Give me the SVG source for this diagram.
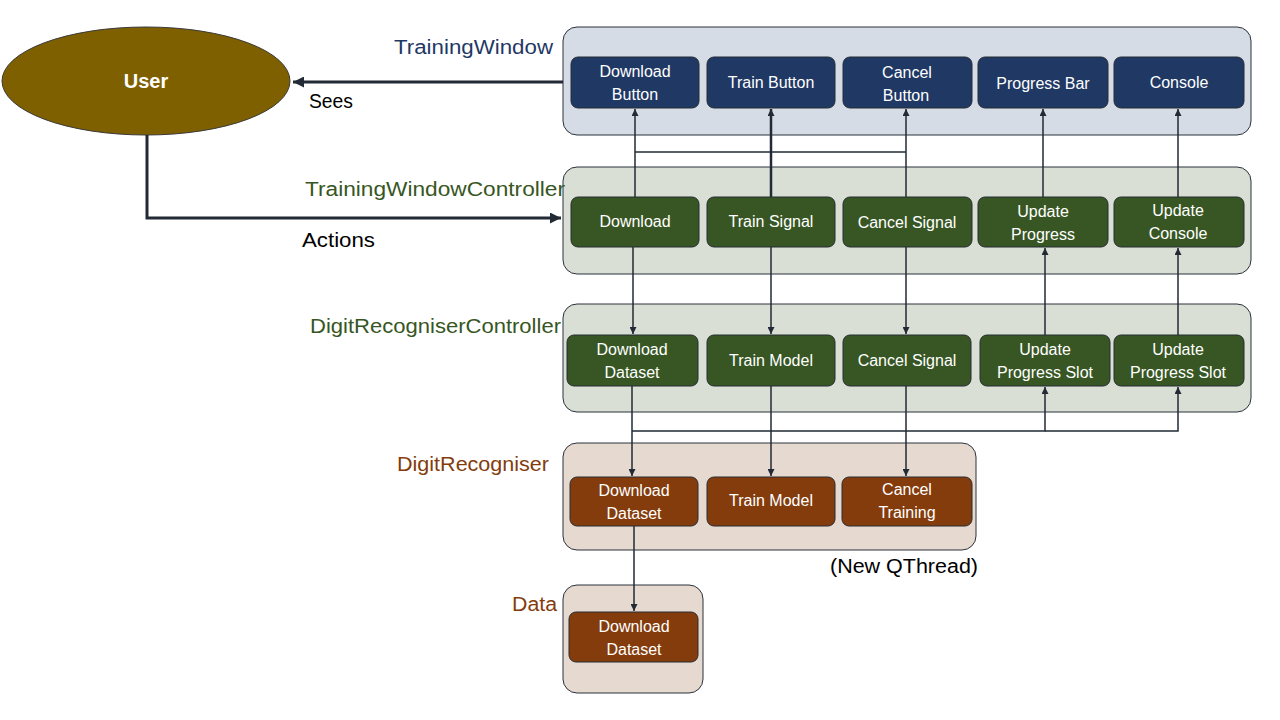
<svg xmlns="http://www.w3.org/2000/svg" width="1280" height="720" viewBox="0 0 1280 720">
<defs>
<marker id="ah" viewBox="0 0 10 10" refX="10" refY="5" markerWidth="7" markerHeight="7" markerUnits="userSpaceOnUse" orient="auto"><path d="M0,0 L10,5 L0,10 z" fill="#222a35"/></marker>
<marker id="ahb" viewBox="0 0 10 10" refX="10" refY="5" markerWidth="11" markerHeight="11" markerUnits="userSpaceOnUse" orient="auto"><path d="M0,0 L10,5 L0,10 z" fill="#222a35"/></marker>
<style>
.cont{stroke:#2b323c;stroke-width:1}
.tw{fill:#d6dce5}.twc{fill:#d9dfd5}.dr{fill:#e6d9d0}
.nb{fill:#1f3864;stroke:#262c35;stroke-width:1}
.ng{fill:#375623;stroke:#262c35;stroke-width:1}
.nr{fill:#843c0c;stroke:#262c35;stroke-width:1}
.nt{font-family:"Liberation Sans",Arial,sans-serif;font-size:16px;fill:#ffffff;text-anchor:middle}
.lbl{font-family:"Liberation Sans",Arial,sans-serif;font-size:20px;text-anchor:end}
.c{fill:none;stroke:#222a35;stroke-width:1.5}
.ct{fill:none;stroke:#222a35;stroke-width:3}
.plain{font-family:"Liberation Sans",Arial,sans-serif;font-size:20px;fill:#000}
</style>
</defs>

<g id="user">
<ellipse cx="146" cy="81" rx="144" ry="54" fill="#7f6000" stroke="#3a3a3a" stroke-width="1"/>
<text x="146" y="88" font-family="Liberation Sans,Arial,sans-serif" font-size="20" font-weight="bold" fill="#fff" text-anchor="middle">User</text>
</g>

<g id="trainingWindow">
<rect class="cont tw" x="563" y="27" width="688" height="108" rx="14"/>
<text class="lbl" x="553" y="54" fill="#1f3864" textLength="159" lengthAdjust="spacingAndGlyphs">TrainingWindow</text>
</g>
<g id="twc">
<rect class="cont twc" x="563" y="167" width="688" height="107" rx="14"/>
<text class="lbl" x="565" y="196" fill="#375623" textLength="260" lengthAdjust="spacingAndGlyphs">TrainingWindowController</text>
</g>
<g id="drc">
<rect class="cont twc" x="563" y="304" width="688" height="108" rx="14"/>
<text class="lbl" x="561" y="333" fill="#375623" textLength="251" lengthAdjust="spacingAndGlyphs">DigitRecogniserController</text>
</g>
<g id="dr">
<rect class="cont dr" x="563" y="443" width="413" height="107" rx="14"/>
<text class="lbl" x="549" y="471" fill="#843c0c" textLength="152" lengthAdjust="spacingAndGlyphs">DigitRecogniser</text>
<text class="plain" x="830" y="573" textLength="148" lengthAdjust="spacingAndGlyphs">(New QThread)</text>
</g>
<g id="data">
<rect class="cont dr" x="563" y="585" width="140" height="108" rx="14"/>
<text class="lbl" x="557" y="611" fill="#843c0c" textLength="45" lengthAdjust="spacingAndGlyphs">Data</text>
</g>

<g id="connectors">
<path class="ct" d="M563,82 H293" marker-end="url(#ahb)"/>
<path class="ct" d="M147,135 V218 H561" marker-end="url(#ahb)"/>
<text class="plain" x="309" y="108" textLength="44" lengthAdjust="spacingAndGlyphs">Sees</text>
<text class="plain" x="302" y="247" textLength="73" lengthAdjust="spacingAndGlyphs">Actions</text>
<path class="c" d="M635,197 V109" marker-end="url(#ah)"/>
<path class="c" d="M771,197 V109" style="stroke-width:2.5" marker-end="url(#ah)"/>
<path class="c" d="M906,197 V109" marker-end="url(#ah)"/>
<path class="c" d="M635,152 H906"/>
<path class="c" d="M1043,197 V109" marker-end="url(#ah)"/>
<path class="c" d="M1178,197 V109" marker-end="url(#ah)"/>
<path class="c" d="M633,247 V334" marker-end="url(#ah)"/>
<path class="c" d="M771,247 V334" marker-end="url(#ah)"/>
<path class="c" d="M906,247 V334" marker-end="url(#ah)"/>
<path class="c" d="M1045,335 V248" marker-end="url(#ah)"/>
<path class="c" d="M1178,335 V248" marker-end="url(#ah)"/>
<path class="c" d="M632,386 V476" marker-end="url(#ah)"/>
<path class="c" d="M771,386 V476" marker-end="url(#ah)"/>
<path class="c" d="M906,386 V476" marker-end="url(#ah)"/>
<path class="c" d="M632,431 H1045 V387" marker-end="url(#ah)"/>
<path class="c" d="M1045,431 H1178 V387" marker-end="url(#ah)"/>
<path class="c" d="M634,526 V611" marker-end="url(#ah)"/>
</g>

<g id="downloadButton"><rect class="nb" x="571" y="57" width="128" height="51" rx="7"/><text class="nt" x="635" y="77">Download</text><text class="nt" x="635" y="100">Button</text></g>
<g id="trainButton"><rect class="nb" x="707" y="57" width="128" height="51" rx="7"/><text class="nt" x="771" y="88">Train Button</text></g>
<g id="cancelButton"><rect class="nb" x="843" y="57" width="129" height="51" rx="7"/><text class="nt" x="907" y="78">Cancel</text><text class="nt" x="906" y="101">Button</text></g>
<g id="progressBar"><rect class="nb" x="978" y="57" width="130" height="51" rx="7"/><text class="nt" x="1043" y="89">Progress Bar</text></g>
<g id="console"><rect class="nb" x="1114" y="57" width="130" height="51" rx="7"/><text class="nt" x="1179" y="88">Console</text></g>

<g id="download"><rect class="ng" x="571" y="197" width="128" height="50" rx="7"/><text class="nt" x="635" y="227">Download</text></g>
<g id="trainSignal"><rect class="ng" x="707" y="197" width="128" height="50" rx="7"/><text class="nt" x="771" y="227">Train Signal</text></g>
<g id="cancelSignal"><rect class="ng" x="843" y="197" width="129" height="50" rx="7"/><text class="nt" x="907" y="228">Cancel Signal</text></g>
<g id="updateProgress"><rect class="ng" x="978" y="197" width="130" height="50" rx="7"/><text class="nt" x="1043" y="217">Update</text><text class="nt" x="1043" y="240">Progress</text></g>
<g id="updateConsole"><rect class="ng" x="1114" y="197" width="130" height="50" rx="7"/><text class="nt" x="1178" y="216">Update</text><text class="nt" x="1178" y="239">Console</text></g>

<g id="drcDownloadDataset"><rect class="ng" x="567" y="335" width="131" height="51" rx="7"/><text class="nt" x="632" y="355">Download</text><text class="nt" x="632" y="378">Dataset</text></g>
<g id="drcTrainModel"><rect class="ng" x="707" y="335" width="128" height="51" rx="7"/><text class="nt" x="771" y="366">Train Model</text></g>
<g id="drcCancelSignal"><rect class="ng" x="843" y="335" width="128" height="51" rx="7"/><text class="nt" x="907" y="366">Cancel Signal</text></g>
<g id="updateProgressSlot1"><rect class="ng" x="980" y="335" width="130" height="51" rx="7"/><text class="nt" x="1045" y="355">Update</text><text class="nt" x="1045" y="378">Progress Slot</text></g>
<g id="updateProgressSlot2"><rect class="ng" x="1114" y="335" width="130" height="51" rx="7"/><text class="nt" x="1178" y="355">Update</text><text class="nt" x="1178" y="378">Progress Slot</text></g>

<g id="drDownloadDataset"><rect class="nr" x="570" y="477" width="128" height="49" rx="7"/><text class="nt" x="634" y="496">Download</text><text class="nt" x="634" y="519">Dataset</text></g>
<g id="drTrainModel"><rect class="nr" x="707" y="477" width="128" height="49" rx="7"/><text class="nt" x="771" y="506">Train Model</text></g>
<g id="drCancelTraining"><rect class="nr" x="842" y="477" width="130" height="49" rx="7"/><text class="nt" x="907" y="495">Cancel</text><text class="nt" x="907" y="518">Training</text></g>

<g id="dataDownloadDataset"><rect class="nr" x="569" y="612" width="129" height="50" rx="7"/><text class="nt" x="634" y="632">Download</text><text class="nt" x="634" y="655">Dataset</text></g>
</svg>
